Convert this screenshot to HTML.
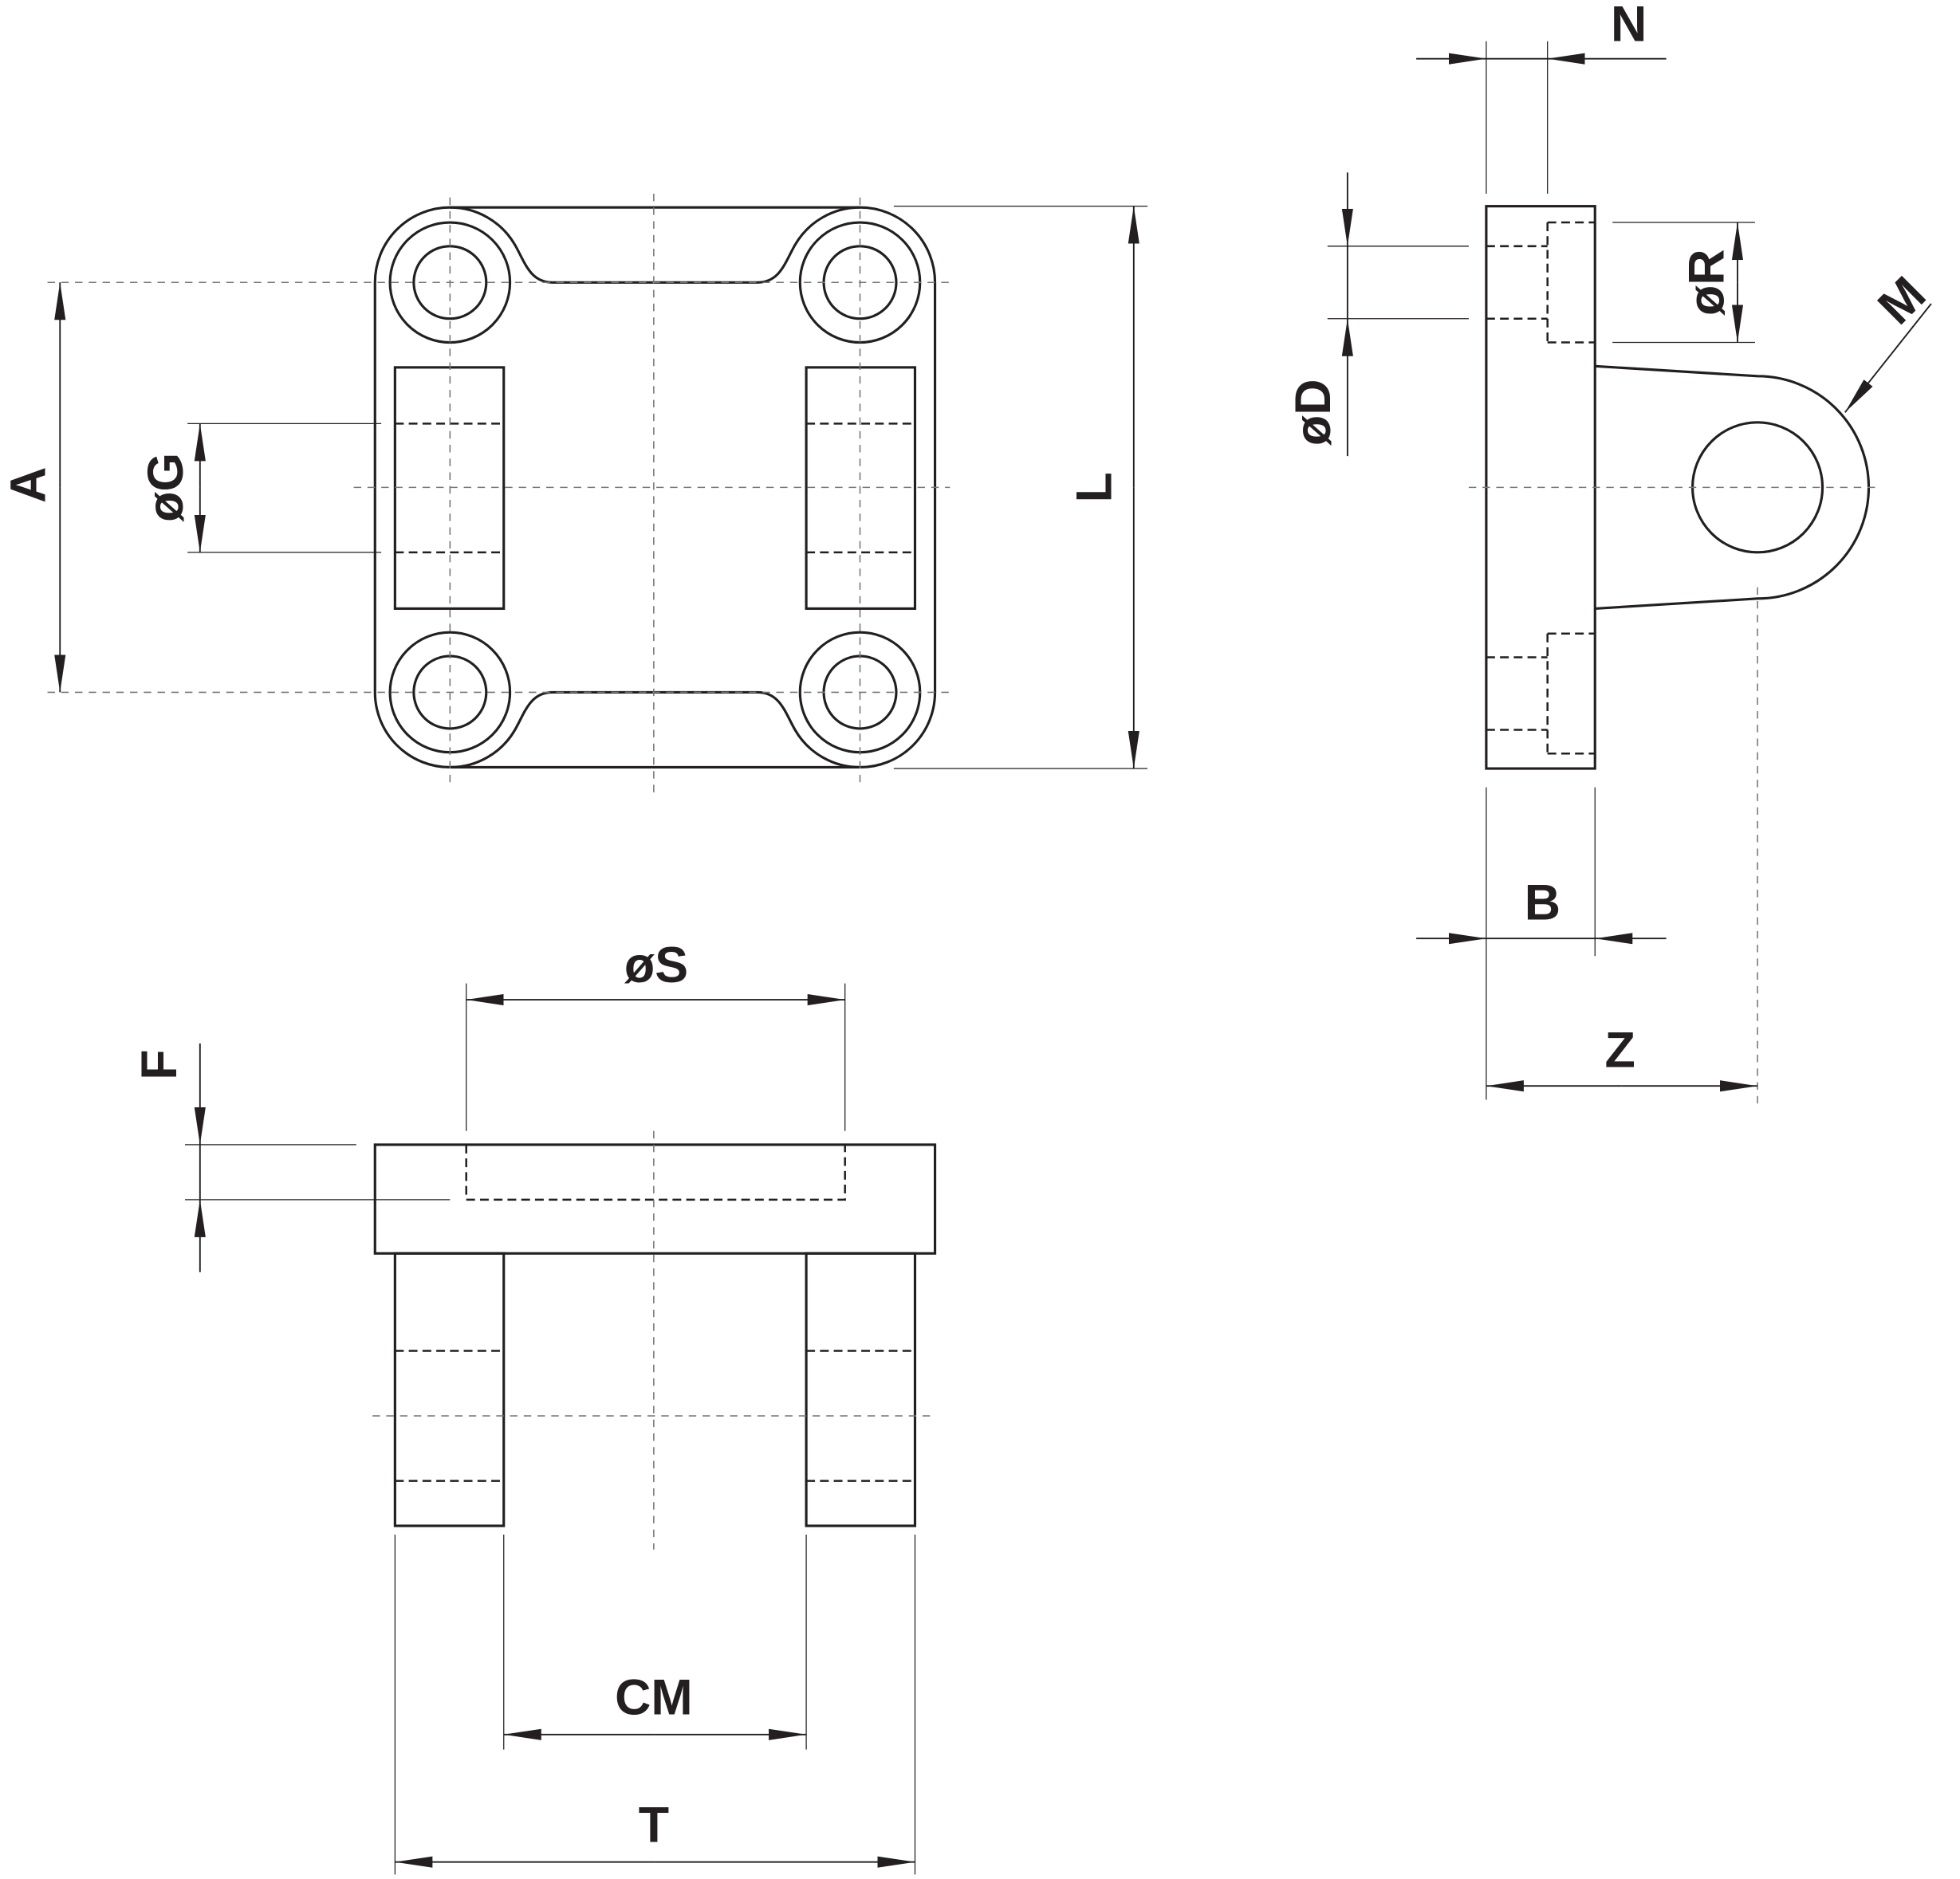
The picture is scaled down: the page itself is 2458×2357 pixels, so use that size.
<!DOCTYPE html>
<html><head><meta charset="utf-8"><style>html,body{margin:0;padding:0;background:#fff}svg{display:block}</style></head>
<body>
<svg width="2458" height="2357" viewBox="0 0 1568 1503.6" preserveAspectRatio="none" xmlns="http://www.w3.org/2000/svg">
<defs>
<marker id="a" viewBox="0 0 30 10" refX="30" refY="5" markerWidth="30" markerHeight="10" markerUnits="userSpaceOnUse" orient="auto"><path d="M0,0.5 L30,5 L0,9.5 Z" fill="#231f20"/></marker>
</defs>
<g fill="none" stroke="#231f20" stroke-width="2">
<path d="M300,226 A60,60 0 0 1 360,166 L688,166 A60,60 0 0 1 748,226 L748,554 A60,60 0 0 1 688,614 L360,614 A60,60 0 0 1 300,554 Z"/>
<circle cx="360" cy="226" r="48"/><circle cx="360" cy="226" r="29"/>
<circle cx="688" cy="226" r="48"/><circle cx="688" cy="226" r="29"/>
<circle cx="360" cy="554" r="48"/><circle cx="360" cy="554" r="29"/>
<circle cx="688" cy="554" r="48"/><circle cx="688" cy="554" r="29"/>
<path d="M360,166 A60,60 0 0 1 412,196 C420,210 424,226 442,226 L606,226 C624,226 628,210 636,196 A60,60 0 0 1 688,166"/>
<path d="M360,614 A60,60 0 0 0 412,584 C420,570 424,554 442,554 L606,554 C624,554 628,570 636,584 A60,60 0 0 0 688,614"/>
<rect x="316" y="294" width="87" height="193"/>
<rect x="645" y="294" width="87" height="193"/>
<rect x="1189" y="165" width="87" height="450"/>
<path d="M1276,293 L1406,301 A89,89 0 0 1 1406,479 L1276,487"/>
<circle cx="1406" cy="390" r="52"/>
<rect x="300" y="916" width="448" height="87"/>
<rect x="316" y="1003" width="87" height="218"/>
<rect x="645" y="1003" width="87" height="218"/>
</g>
<g fill="none" stroke="#231f20" stroke-width="1.6" stroke-dasharray="7,4">
<path d="M316,339H403M316,442H403M645,339H732M645,442H732"/>
<path d="M1238,178V274M1238,178H1276M1238,274H1276M1189,197H1238M1189,255H1238"/>
<path d="M1238,507V603M1238,507H1276M1238,603H1276M1189,526H1238M1189,584H1238"/>
<path d="M373,916V960H676V916"/>
<path d="M316,1081H403M316,1185H403M645,1081H732M645,1185H732"/>
</g>
<g fill="none" stroke="#777" stroke-width="1" stroke-dasharray="6,5">
<path d="M38,226H760M38,554H760M283,390H760M360,158V628M523,155V635M688,158V628"/>
<path d="M1175,390H1500"/>
<path d="M298,1133H748M523,905V1240"/>
<path d="M1406,470V885"/>
</g>
<g fill="none" stroke="#231f20" stroke-width="0.8">
<path d="M715,165H918M715,615H918M150,339H305M150,442H305"/>
<path d="M1189,33V155M1238,33V155M1062,197H1175M1062,255H1175M1290,178H1404M1290,274H1404"/>
<path d="M1189,630V765M1276,630V765M1189,630V880"/>
<path d="M373,787V905M676,787V905M148,916H285M148,960H360"/>
<path d="M403,1228V1400M645,1228V1400M316,1228V1500M732,1228V1500"/>
</g>
<g fill="none" stroke="#231f20" stroke-width="1.2">
<line x1="48" y1="390" x2="48" y2="226" marker-end="url(#a)"/><line x1="48" y1="390" x2="48" y2="554" marker-end="url(#a)"/>
<line x1="907" y1="390" x2="907" y2="165" marker-end="url(#a)"/><line x1="907" y1="390" x2="907" y2="615" marker-end="url(#a)"/>
<line x1="160" y1="390" x2="160" y2="339" marker-end="url(#a)"/><line x1="160" y1="390" x2="160" y2="442" marker-end="url(#a)"/>
<line x1="1133" y1="47" x2="1189" y2="47" marker-end="url(#a)"/><line x1="1333" y1="47" x2="1238" y2="47" marker-end="url(#a)"/><line x1="1189" y1="47" x2="1238" y2="47"/>
<line x1="1078" y1="138" x2="1078" y2="197" marker-end="url(#a)"/><line x1="1078" y1="365" x2="1078" y2="255" marker-end="url(#a)"/><line x1="1078" y1="197" x2="1078" y2="255"/>
<line x1="1390" y1="226" x2="1390" y2="178" marker-end="url(#a)"/><line x1="1390" y1="226" x2="1390" y2="274" marker-end="url(#a)"/>
<line x1="1545" y1="243" x2="1476" y2="330" marker-end="url(#a)"/>
<line x1="1133" y1="751" x2="1189" y2="751" marker-end="url(#a)"/><line x1="1333" y1="751" x2="1276" y2="751" marker-end="url(#a)"/><line x1="1189" y1="751" x2="1276" y2="751"/>
<line x1="1297" y1="869" x2="1189" y2="869" marker-end="url(#a)"/><line x1="1297" y1="869" x2="1406" y2="869" marker-end="url(#a)"/>
<line x1="525" y1="800" x2="373" y2="800" marker-end="url(#a)"/><line x1="525" y1="800" x2="676" y2="800" marker-end="url(#a)"/>
<line x1="160" y1="835" x2="160" y2="916" marker-end="url(#a)"/><line x1="160" y1="1018" x2="160" y2="960" marker-end="url(#a)"/><line x1="160" y1="916" x2="160" y2="960"/>
<line x1="524" y1="1388" x2="403" y2="1388" marker-end="url(#a)"/><line x1="524" y1="1388" x2="645" y2="1388" marker-end="url(#a)"/>
<line x1="524" y1="1490" x2="316" y2="1490" marker-end="url(#a)"/><line x1="524" y1="1490" x2="732" y2="1490" marker-end="url(#a)"/>
</g>
<g font-family="'Liberation Sans',sans-serif" font-weight="bold" font-size="40" fill="#231f20" text-anchor="middle">
<text transform="translate(36,388) rotate(-90)">A</text>
<text transform="translate(889,390) rotate(-90)">L</text>
<text transform="translate(146,390) rotate(-90)">øG</text>
<text x="1303" y="33">N</text>
<text transform="translate(1064,330) rotate(-90)">øD</text>
<text transform="translate(1379,226) rotate(-90)">øR</text>
<text transform="translate(1531,250) rotate(-45)">M</text>
<text x="1234" y="736">B</text>
<text x="1296" y="854">Z</text>
<text x="525" y="786">øS</text>
<text transform="translate(141,852) rotate(-90)">F</text>
<text x="523" y="1372">CM</text>
<text x="523" y="1474">T</text>
</g>
</svg>
</body></html>
